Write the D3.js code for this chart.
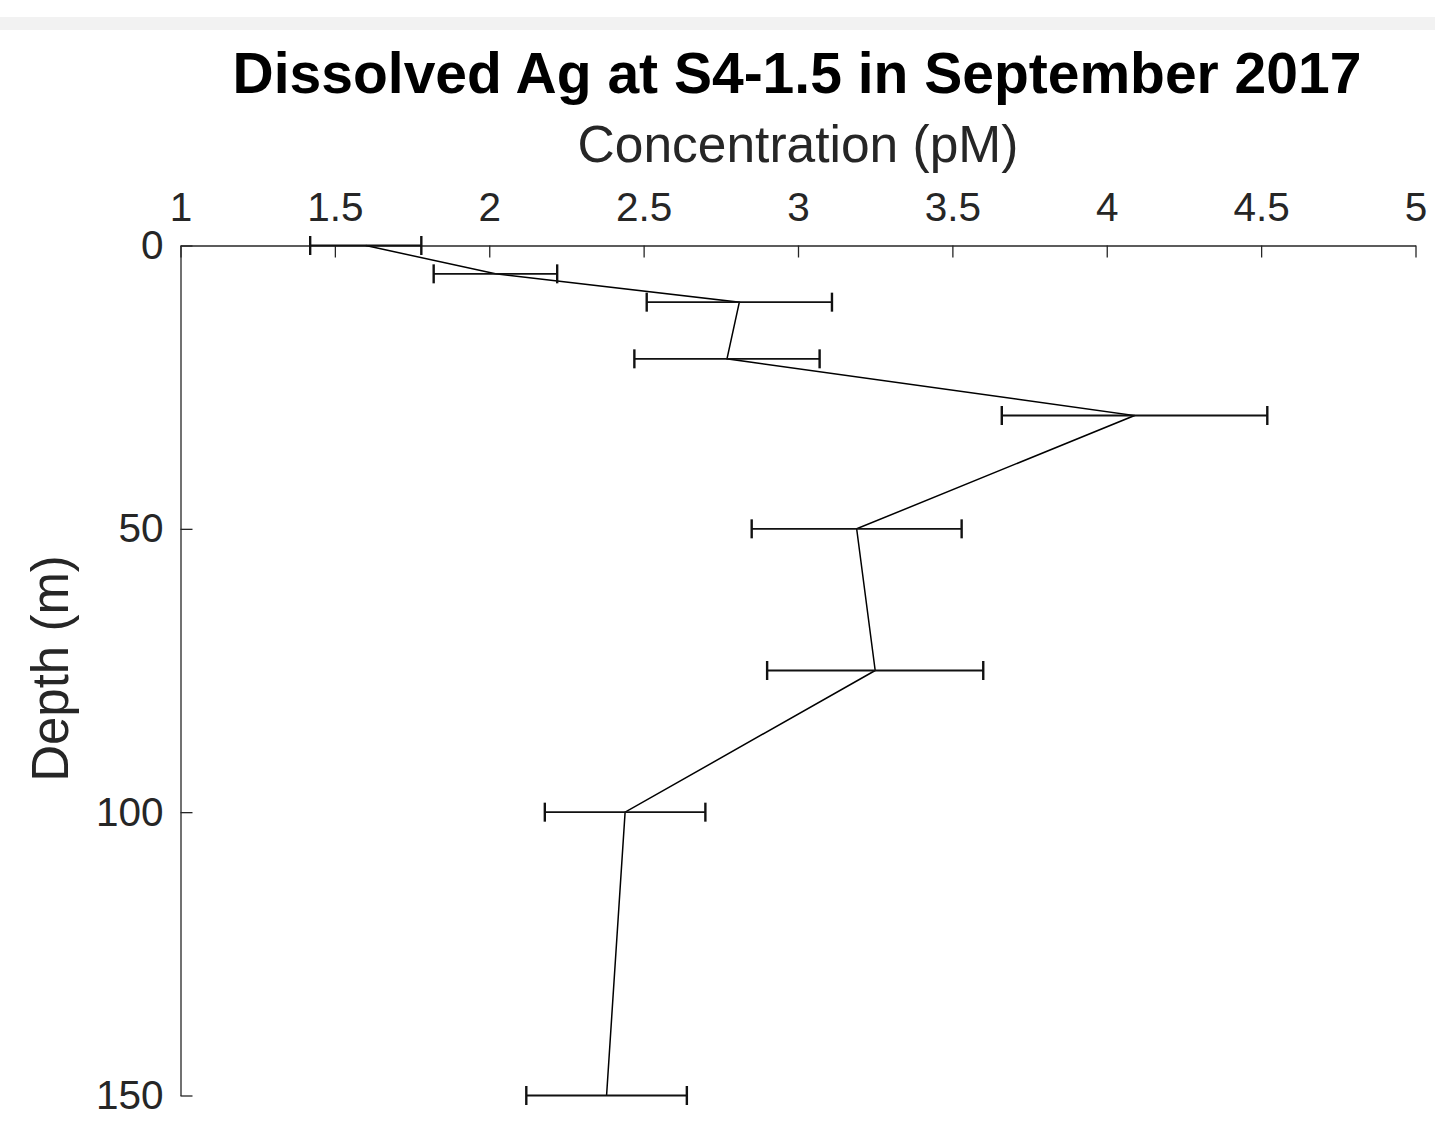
<!DOCTYPE html>
<html>
<head>
<meta charset="utf-8">
<script src="https://cdn.jsdelivr.net/npm/d3@7"></script>
<style>
  html, body { margin: 0; padding: 0; background: #ffffff; }
  svg { display: block; }
  text { font-family: "Liberation Sans", Arial, Helvetica, sans-serif; }
</style>
</head>
<body>
<svg id="chart" width="1435" height="1121"></svg>
<script>
// Dissolved Ag profile at station S4-1.5
const depths = [0, 5, 10, 20, 30, 50, 75, 100, 150];            // m
const concentrations = [1.60, 2.02, 2.81, 2.77, 4.09, 3.19, 3.25, 2.44, 2.38]; // pM
const errors = [0.18, 0.20, 0.30, 0.30, 0.43, 0.34, 0.35, 0.26, 0.26];         // pM
const xTicks = [1, 1.5, 2, 2.5, 3, 3.5, 4, 4.5, 5];
const yTicks = [0, 50, 100, 150];

const svg = d3.select("#chart");
const W = 1435, H = 1121;
const plotLeft = 180.5, plotRight = 1415.5, plotTop = 245.5, plotBottom = 1095.5;

// light band along the top edge
svg.append("rect").attr("x", 0).attr("y", 17).attr("width", W).attr("height", 13)
  .attr("fill", "#f2f2f2");

const x = d3.scaleLinear().domain([1, 5]).range([plotLeft, plotRight]);
const y = d3.scaleLinear().domain([0, 150]).range([plotTop, plotBottom]);

const axisColor = "#262626";

const xAxis = svg.append("g")
  .attr("transform", `translate(0,${plotTop})`)
  .call(d3.axisTop(x).tickValues(xTicks).tickFormat(d3.format("")).tickSizeInner(-12).tickSizeOuter(0).tickPadding(25));
const yAxis = svg.append("g")
  .attr("transform", `translate(${plotLeft},0)`)
  .call(d3.axisLeft(y).tickValues(yTicks).tickSizeInner(-12).tickSizeOuter(0).tickPadding(17));

[xAxis, yAxis].forEach(g => {
  g.attr("font-family", null).attr("font-size", null);
  g.select(".domain").attr("stroke", axisColor).attr("stroke-width", 1.3);
  g.selectAll(".tick line").attr("stroke", axisColor).attr("stroke-width", 1.3);
  g.selectAll(".tick text").attr("fill", axisColor).style("font-size", "40.5px");
});

// profile line
const line = d3.line().x((d, i) => x(concentrations[i])).y(d => y(d));
svg.append("path").datum(depths)
  .attr("d", line)
  .attr("fill", "none").attr("stroke", "#000").attr("stroke-width", 1.5);

// horizontal error bars
const bars = svg.append("g").attr("stroke", "#111");
depths.forEach((d, i) => {
  const yy = y(d), x0 = x(concentrations[i] - errors[i]), x1 = x(concentrations[i] + errors[i]);
  bars.append("line").attr("x1", x0).attr("x2", x1).attr("y1", yy).attr("y2", yy).attr("stroke-width", 1.9);
  bars.append("line").attr("x1", x0).attr("x2", x0).attr("y1", yy - 9.5).attr("y2", yy + 9.5).attr("stroke-width", 2.4);
  bars.append("line").attr("x1", x1).attr("x2", x1).attr("y1", yy - 9.5).attr("y2", yy + 9.5).attr("stroke-width", 2.4);
});

// titles
const cx = (plotLeft + plotRight) / 2;
svg.append("text").attr("x", cx - 1).attr("y", 93).attr("text-anchor", "middle")
  .style("font-size", "57px").style("font-weight", "bold").attr("fill", "#000")
  .text("Dissolved Ag at S4-1.5 in September 2017");
svg.append("text").attr("x", cx).attr("y", 162).attr("text-anchor", "middle")
  .style("font-size", "51.5px").attr("fill", axisColor)
  .text("Concentration (pM)");
svg.append("text")
  .attr("transform", `translate(68,${(plotTop + plotBottom) / 2 - 2}) rotate(-90)`)
  .attr("text-anchor", "middle")
  .style("font-size", "51px").attr("fill", axisColor)
  .text("Depth (m)");
</script>
</body>
</html>
